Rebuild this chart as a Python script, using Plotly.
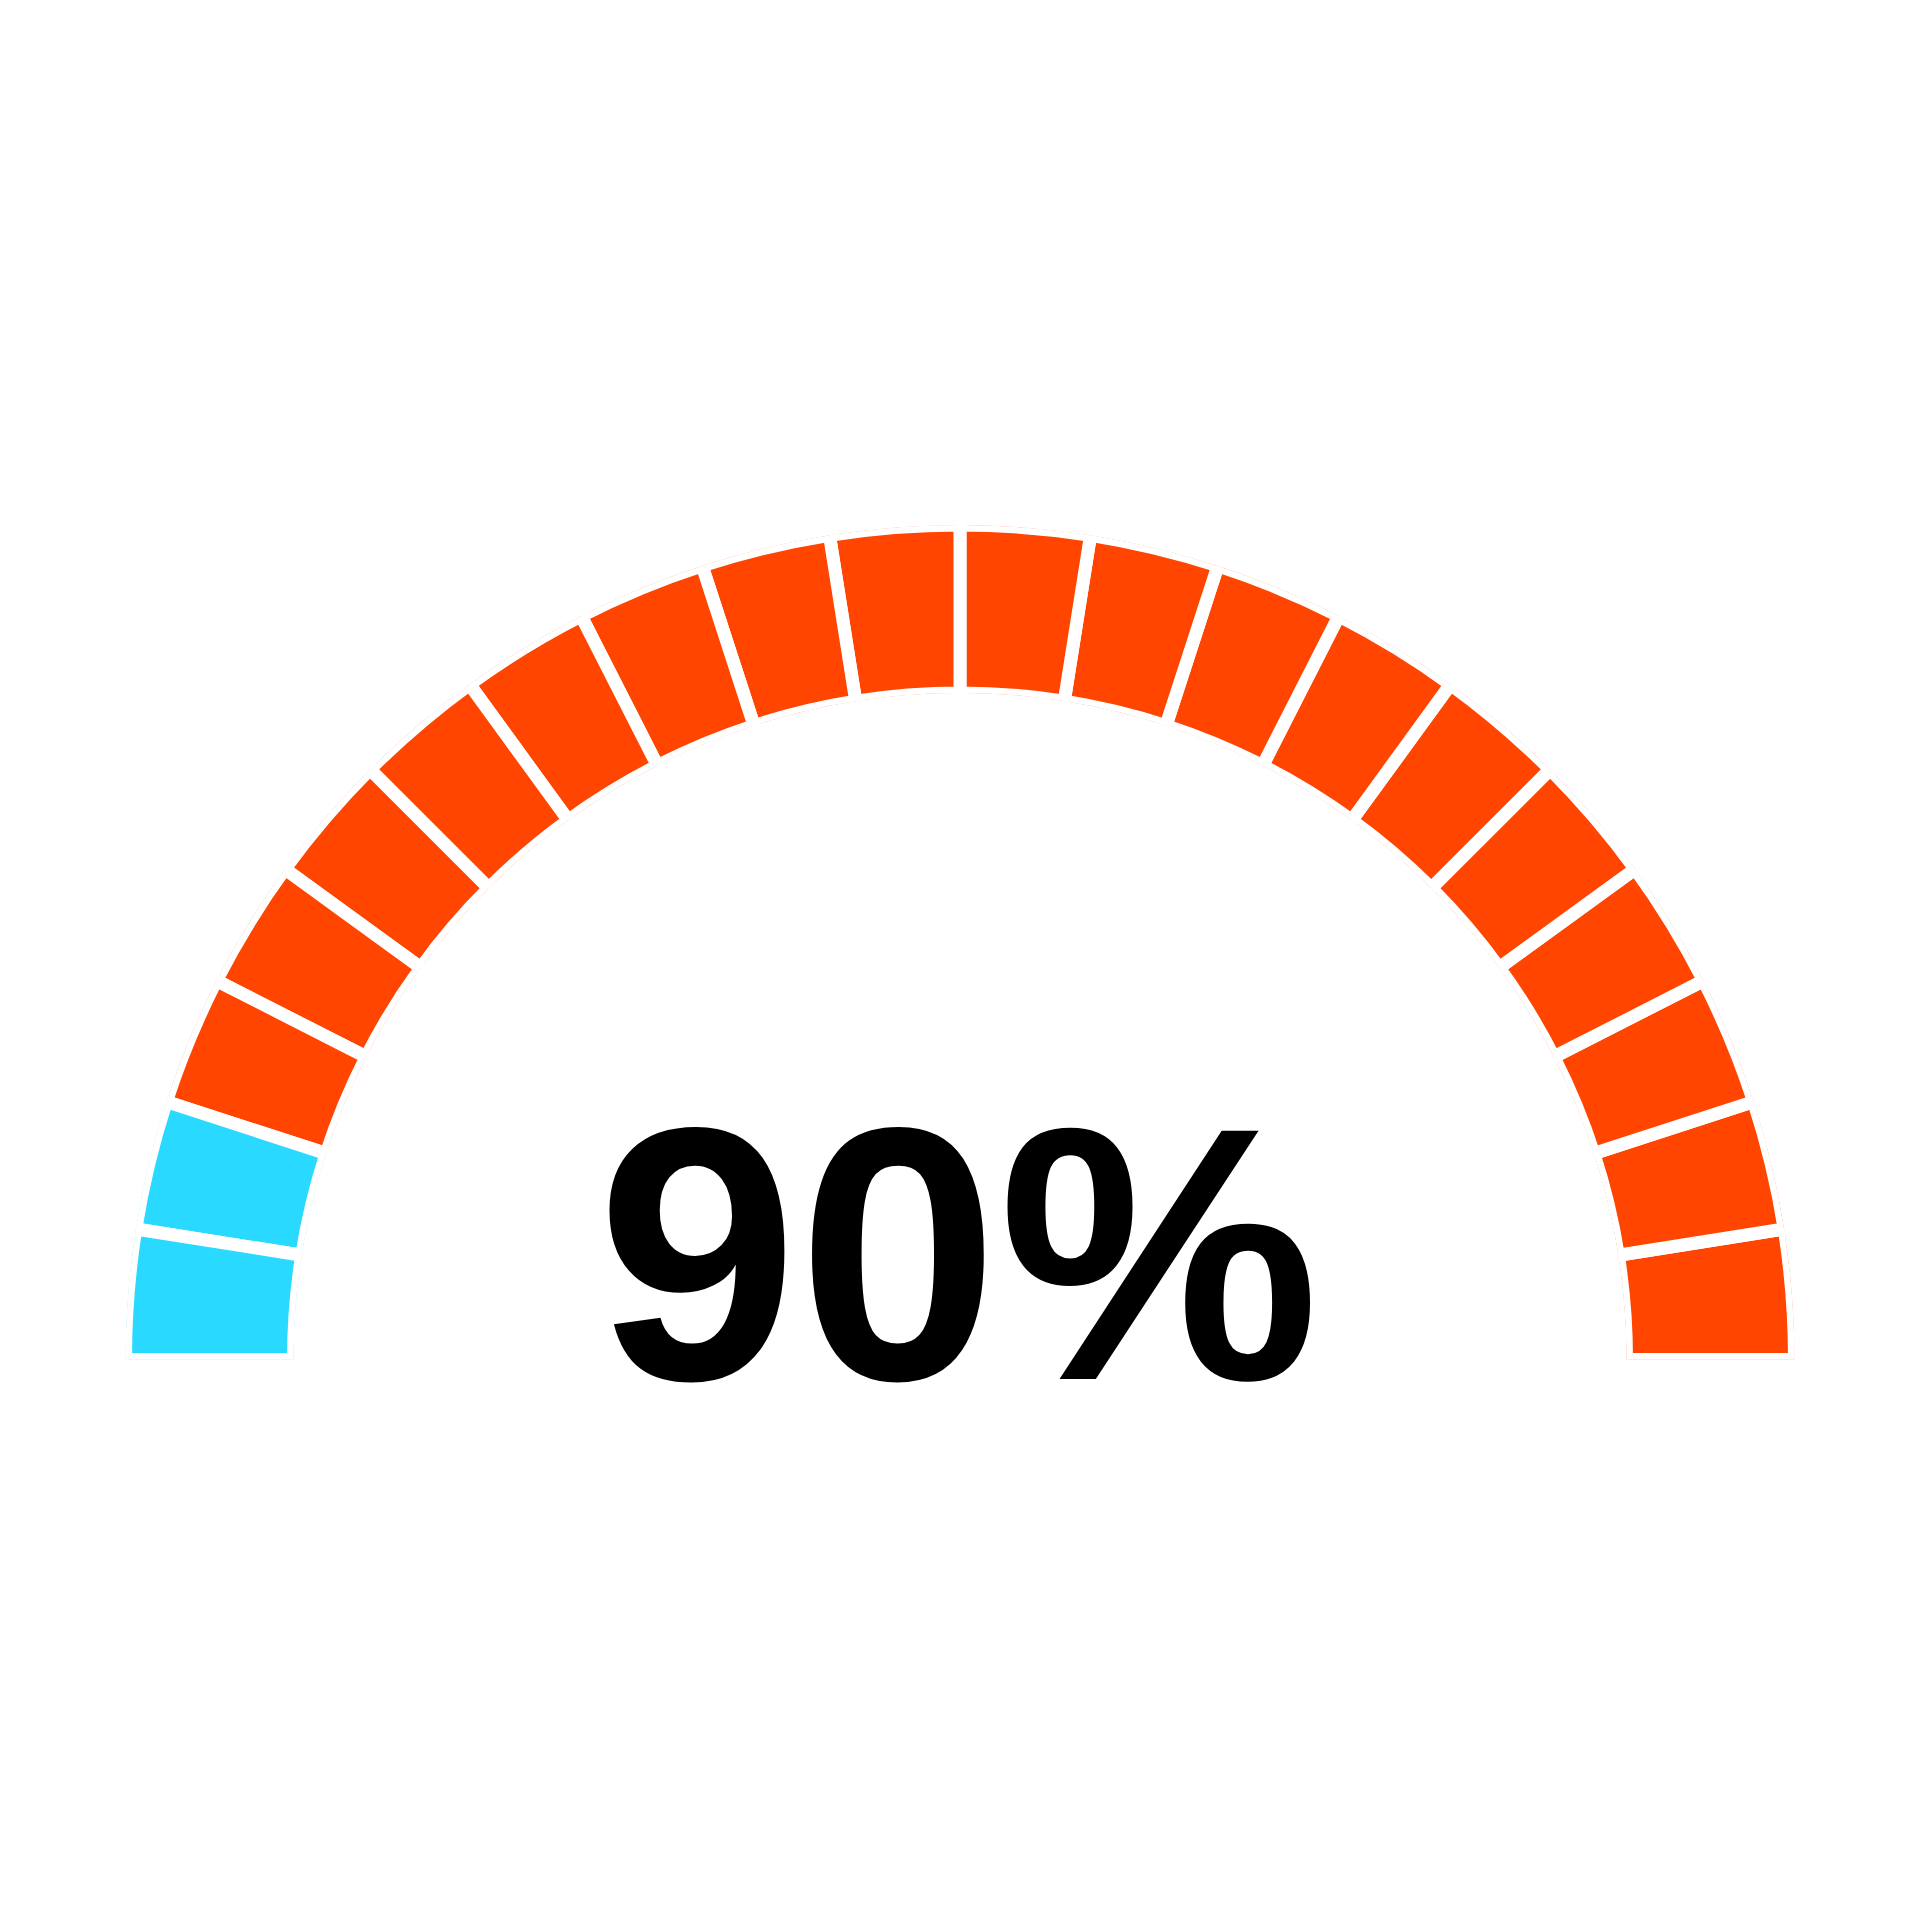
import plotly.graph_objects as go

# ---- data ----
gauge_value = 90            # percent shown in the centre
segment_count = 20          # number of blocks in the half ring
value_color = "#FF4500"
rest_color = "#29D9FF"
label_text = f"{gauge_value}%"

seg_width = 180 / segment_count
filled = round(gauge_value / 100 * segment_count)
thetas = [seg_width * (i + 0.5) for i in range(segment_count)]
radii = [1] * segment_count
colors = [value_color if i < filled else rest_color for i in range(segment_count)]

fig = go.Figure()
fig.add_trace(go.Barpolar(
    r=radii,
    theta=thetas,
    width=[seg_width] * segment_count,
    marker=dict(color=colors, line=dict(color="white", width=13)),
    hoverinfo="skip",
))

W = H = 1920
cx, cy, R = 952, 1351.5, 834.5
fig.update_layout(
    width=W, height=H,
    margin=dict(l=0, r=0, t=0, b=0),
    paper_bgcolor="white",
    plot_bgcolor="white",
    showlegend=False,
    polar=dict(
        domain=dict(x=[(cx - R) / W, (cx + R) / W], y=[1 - cy / H, 1 - (cy - R) / H]),
        sector=[0, 180],
        hole=666.5 / R,
        bgcolor="white",
        radialaxis=dict(range=[0, 1], visible=False, showgrid=False, showline=False, showticklabels=False, ticks=""),
        angularaxis=dict(direction="counterclockwise", rotation=0, visible=False,
                         showgrid=False, showline=False, showticklabels=False, ticks=""),
    ),
    annotations=[dict(
        text=f"<b>{label_text}</b>",
        x=950.5 / W, y=1 - 1246 / H, xref="paper", yref="paper",
        xanchor="center", yanchor="middle", showarrow=False,
        font=dict(family="Liberation Sans, Arial, sans-serif", size=361, color="black"),
    )],
)

fig.write_html("out.html")
